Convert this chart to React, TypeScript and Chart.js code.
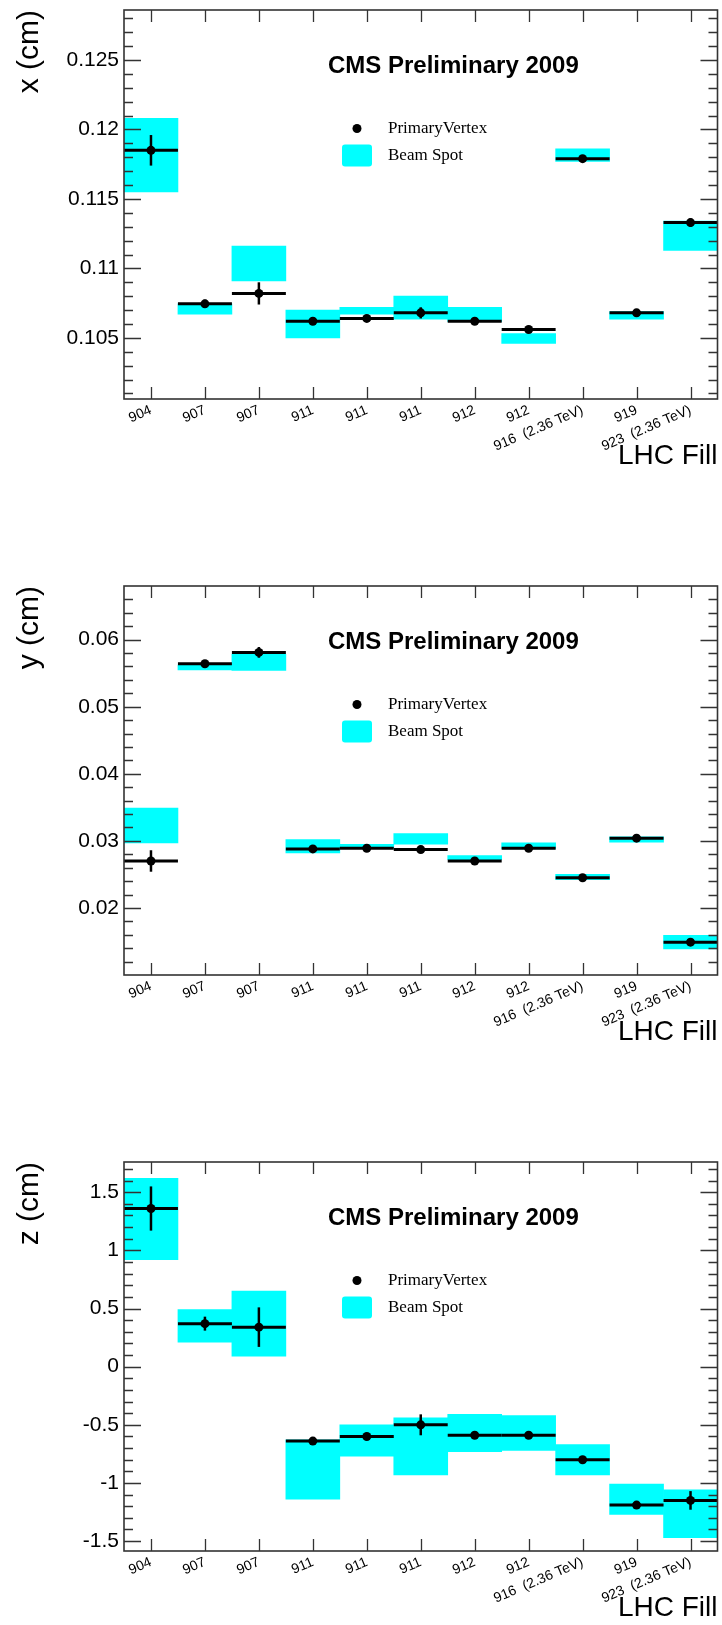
import React, { useEffect, useRef } from "react";
import { Chart, registerables } from "chart.js";
Chart.register(...registerables);

// ---- categories (LHC fills) ----
const fills = ["904", "907", "907", "911", "911", "911", "912", "912", "916  (2.36 TeV)", "919", "923  (2.36 TeV)"];

// ---- x (cm) ----
const xPV = [0.1185, 0.10745, 0.1082, 0.1062, 0.1064, 0.1068, 0.1062, 0.1056, 0.1179, 0.1068, 0.1133];
const xPVErr = [0.0011, 0.0003, 0.0008, 0.0002, 0.0002, 0.0004, 0.0002, 0.0002, 0.0002, 0.0002, 0.0003];
const xBSLow = [0.1155, 0.1067, 0.1091, 0.105, 0.1067, 0.10635, 0.10617, 0.1046, 0.1177, 0.10635, 0.1113];
const xBSHigh = [0.1208, 0.10745, 0.1116, 0.107, 0.1072, 0.108, 0.1072, 0.1053, 0.1186, 0.10689, 0.1134];
const xTicks = [0.105, 0.11, 0.115, 0.12, 0.125];
const xTickLabels = ["0.105", "0.11", "0.115", "0.12", "0.125"];

// ---- y (cm) ----
const yPV = [0.027, 0.0564, 0.0581, 0.0288, 0.0289, 0.0287, 0.027, 0.0289, 0.0245, 0.0304, 0.0149];
const yPVErr = [0.0016, 0.0005, 0.0008, 0.0003, 0.0003, 0.0003, 0.0003, 0.0003, 0.0002, 0.0003, 0.0003];
const yBSLow = [0.0297, 0.0555, 0.0554, 0.0282, 0.0289, 0.0295, 0.0272, 0.0288, 0.0242, 0.0298, 0.0139];
const yBSHigh = [0.0349, 0.0562, 0.0578, 0.0302, 0.0295, 0.0311, 0.0278, 0.0297, 0.025, 0.0306, 0.0159];
const yTicks = [0.02, 0.03, 0.04, 0.05, 0.06];
const yTickLabels = ["0.02", "0.03", "0.04", "0.05", "0.06"];

// ---- z (cm) ----
const zPV = [1.36, 0.37, 0.34, -0.64, -0.6, -0.5, -0.59, -0.59, -0.8, -1.19, -1.15];
const zPVErr = [0.19, 0.06, 0.17, 0.02, 0.03, 0.09, 0.03, 0.03, 0.03, 0.03, 0.08];
const zBSLow = [0.92, 0.21, 0.09, -1.14, -0.77, -0.93, -0.73, -0.72, -0.93, -1.27, -1.47];
const zBSHigh = [1.62, 0.49, 0.65, -0.63, -0.5, -0.44, -0.41, -0.42, -0.67, -1.01, -1.06];
const zTicks = [-1.5, -1, -0.5, 0, 0.5, 1, 1.5];
const zTickLabels = ["-1.5", "-1", "-0.5", "0", "0.5", "1", "1.5"];

const plotTitle = "CMS Preliminary 2009";
const legendPV = "PrimaryVertex";
const legendBS = "Beam Spot";
const xAxisTitle = "LHC Fill";

const SANS = "'Liberation Sans', Arial, Helvetica, sans-serif";
const SERIF = "'Liberation Serif', 'Times New Roman', serif";
const CYAN = "#00ffff";

const rootStyle = {
  id: "rootStyle",
  afterDatasetsDraw(chart: any, _args: any, opts: any) {
    const { ctx, chartArea: a, scales } = chart;
    const xs = scales.x;
    const ys = scales.y;
    ctx.save();
    ctx.strokeStyle = "#000";
    // PV bin-width bars and vertical error bars
    opts.pv.forEach((v: number, i: number) => {
      const px = xs.getPixelForValue(i);
      const x0 = xs.getPixelForValue(i - 0.5);
      const x1 = xs.getPixelForValue(i + 0.5);
      const py = ys.getPixelForValue(v);
      ctx.lineWidth = 3;
      ctx.beginPath();
      ctx.moveTo(x0, py);
      ctx.lineTo(x1, py);
      ctx.stroke();
      ctx.lineWidth = 2.5;
      ctx.beginPath();
      ctx.moveTo(px, ys.getPixelForValue(v + opts.err[i]));
      ctx.lineTo(px, ys.getPixelForValue(v - opts.err[i]));
      ctx.stroke();
    });
    // frame
    ctx.strokeStyle = "#333";
    ctx.lineWidth = 1.6;
    ctx.strokeRect(a.left, a.top, a.right - a.left, a.bottom - a.top);
    // y ticks (major and minor), both sides, inward
    ctx.lineWidth = 1.3;
    const major = opts.yTicks as number[];
    const step = opts.minorStep as number;
    const kmin = Math.ceil(ys.min / step - 1e-6);
    const kmax = Math.floor(ys.max / step + 1e-6);
    for (let k = kmin; k <= kmax; k++) {
      const v = k * step;
      const isMajor = major.some((m) => Math.abs(m - v) < step * 0.01);
      const len = isMajor ? 17 : 9;
      const py = Math.round(ys.getPixelForValue(v)) + 0.5;
      if (py < a.top + 1 || py > a.bottom - 1) continue;
      ctx.beginPath();
      ctx.moveTo(a.left, py);
      ctx.lineTo(a.left + len, py);
      ctx.moveTo(a.right, py);
      ctx.lineTo(a.right - len, py);
      ctx.stroke();
    }
    // x ticks, top and bottom, inward
    for (let i = 0; i < fills.length; i++) {
      const px = Math.round(xs.getPixelForValue(i)) + 0.5;
      ctx.beginPath();
      ctx.moveTo(px, a.bottom);
      ctx.lineTo(px, a.bottom - 12);
      ctx.moveTo(px, a.top);
      ctx.lineTo(px, a.top + 12);
      ctx.stroke();
    }
    ctx.restore();
  },
  afterDraw(chart: any) {
    const { ctx, chartArea: a } = chart;
    ctx.save();
    ctx.fillStyle = "#000";
    ctx.textBaseline = "middle";
    ctx.textAlign = "left";
    ctx.font = `bold 24px ${SANS}`;
    ctx.fillText(plotTitle, 328, a.top + 56);
    // legend
    ctx.beginPath();
    ctx.arc(357, a.top + 118.5, 4.5, 0, Math.PI * 2);
    ctx.fill();
    ctx.font = `17px ${SERIF}`;
    ctx.fillText(legendPV, 388, a.top + 118.5);
    ctx.fillStyle = CYAN;
    const bx = 342, by = a.top + 134.5, bw = 30, bh = 22, r = 3;
    ctx.beginPath();
    ctx.moveTo(bx + r, by);
    ctx.lineTo(bx + bw - r, by);
    ctx.quadraticCurveTo(bx + bw, by, bx + bw, by + r);
    ctx.lineTo(bx + bw, by + bh - r);
    ctx.quadraticCurveTo(bx + bw, by + bh, bx + bw - r, by + bh);
    ctx.lineTo(bx + r, by + bh);
    ctx.quadraticCurveTo(bx, by + bh, bx, by + bh - r);
    ctx.lineTo(bx, by + r);
    ctx.quadraticCurveTo(bx, by, bx + r, by);
    ctx.fill();
    ctx.fillStyle = "#000";
    ctx.fillText(legendBS, 388, a.top + 145.5);
    ctx.restore();
  },
};

type PlotCfg = {
  top: number;
  height: number;
  yTitle: string;
  pv: number[];
  err: number[];
  bsLow: number[];
  bsHigh: number[];
  yMin: number;
  yMax: number;
  yTicks: number[];
  yTickLabels: string[];
  minorStep: number;
};

const AXIS_BOTTOM = 473; // bottom of x-axis box inside each canvas

function Plot({ cfg }: { cfg: PlotCfg }) {
  const ref = useRef<HTMLCanvasElement>(null);
  useEffect(() => {
    const chart = new Chart(ref.current as HTMLCanvasElement, {
      type: "bar",
      data: {
        labels: fills,
        datasets: [
          {
            type: "bar",
            data: cfg.bsLow.map((lo, i) => [lo, cfg.bsHigh[i]]) as any,
            backgroundColor: CYAN,
            borderWidth: 0,
            barPercentage: 1,
            categoryPercentage: 1,
            order: 2,
          },
          {
            type: "line",
            data: cfg.pv,
            showLine: false,
            pointRadius: 4.5,
            pointBackgroundColor: "#000",
            pointBorderColor: "#000",
            pointBorderWidth: 0,
            order: 1,
          } as any,
        ],
      },
      options: {
        animation: false,
        responsive: false,
        events: [],
        layout: { padding: { top: 10, right: 4, left: 0, bottom: cfg.height - AXIS_BOTTOM } },
        plugins: {
          legend: { display: false },
          tooltip: { enabled: false },
          rootStyle: {
            pv: cfg.pv,
            err: cfg.err,
            yTicks: cfg.yTicks,
            minorStep: cfg.minorStep,
          },
        } as any,
        scales: {
          x: {
            type: "category",
            offset: true,
            grid: { display: false, drawTicks: false },
            border: { display: false },
            ticks: {
              autoSkip: false,
              minRotation: 23,
              maxRotation: 23,
              padding: 3,
              color: "#000",
              font: { family: SANS, size: 14 },
            },
            title: {
              display: true,
              text: xAxisTitle,
              align: "end",
              color: "#000",
              font: { family: SANS, size: 28 },
              padding: { top: 0, bottom: 0 },
            },
            afterFit: (s: any) => {
              s.height = AXIS_BOTTOM - 399;
              s.paddingLeft = 0;
              s.paddingRight = 0;
            },
          },
          y: {
            type: "linear",
            min: cfg.yMin,
            max: cfg.yMax,
            grid: { display: false, drawTicks: false },
            border: { display: false },
            afterBuildTicks: (s: any) => {
              s.ticks = cfg.yTicks.map((v) => ({ value: v }));
            },
            ticks: {
              autoSkip: false,
              padding: 5,
              color: "#000",
              font: { family: SANS, size: 21 },
              callback: (_v: any, i: number) => cfg.yTickLabels[i],
            },
            title: {
              display: true,
              text: cfg.yTitle,
              align: "end",
              color: "#000",
              font: { family: SANS, size: 30 },
              padding: { top: 12, bottom: 0 },
            },
            afterFit: (s: any) => {
              s.width = 124;
              s.paddingTop = 0;
              s.paddingBottom = 0;
            },
          },
        },
      } as any,
      plugins: [rootStyle],
    });
    return () => chart.destroy();
  }, []);
  return (
    <div style={{ position: "absolute", left: 0, top: cfg.top, width: 722, height: cfg.height }}>
      <canvas ref={ref} width={722} height={cfg.height} style={{ width: 722, height: cfg.height, display: "block" }} />
    </div>
  );
}

const plots: PlotCfg[] = [
  {
    top: 0, height: 576, yTitle: "x (cm)", pv: xPV, err: xPVErr, bsLow: xBSLow, bsHigh: xBSHigh,
    yMin: 0.1006, yMax: 0.1286, yTicks: xTicks, yTickLabels: xTickLabels, minorStep: 0.001,
  },
  {
    top: 576, height: 576, yTitle: "y (cm)", pv: yPV, err: yPVErr, bsLow: yBSLow, bsHigh: yBSHigh,
    yMin: 0.01, yMax: 0.068, yTicks: yTicks, yTickLabels: yTickLabels, minorStep: 0.002,
  },
  {
    top: 1152, height: 473, yTitle: "z (cm)", pv: zPV, err: zPVErr, bsLow: zBSLow, bsHigh: zBSHigh,
    yMin: -1.585, yMax: 1.76, yTicks: zTicks, yTickLabels: zTickLabels, minorStep: 0.1,
  },
];

export default function App() {
  return (
    <div style={{ position: "absolute", left: 0, top: 0, width: 722, height: 1625, background: "#fff", overflow: "hidden" }}>
      {plots.map((p, i) => (
        <Plot key={i} cfg={p} />
      ))}
    </div>
  );
}
